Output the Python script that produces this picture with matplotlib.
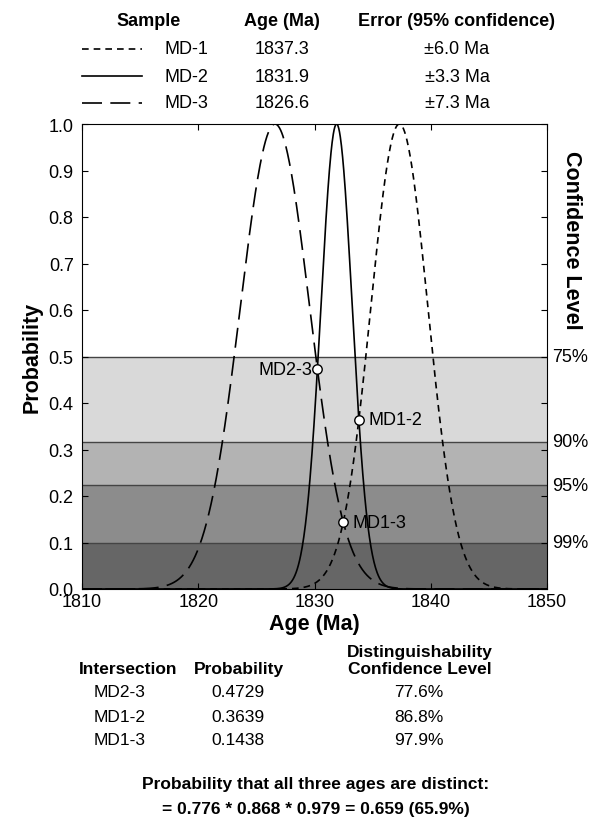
import numpy as np
import matplotlib
matplotlib.use("Agg")
import matplotlib.pyplot as plt

plt.rcParams['font.family'] = ['Liberation Sans', 'DejaVu Sans']

# Samples (age and 95% error)
samples = ["MD-1", "MD-2", "MD-3"]
ages = [1837.3, 1831.9, 1826.6]
errors = [6.0, 3.3, 7.3]
styles = [(0, (4, 3)), "-", (0, (12, 5))]

# Intersections between the curves
pairs = [(1, 2), (0, 1), (0, 2)]
pair_names = ["MD2-3", "MD1-2", "MD1-3"]
pair_probs = [0.4729, 0.3639, 0.1438]
pair_conf = ["77.6%", "86.8%", "97.9%"]

# Confidence bands
conf_levels = [75, 90, 95, 99]
band_colors = ["#d9d9d9", "#b3b3b3", "#8c8c8c", "#666666"]

K95 = 2.4477  # 95% error -> sigma
W, H = 601, 820
FS = 13


def fx(px):
    return px / W


def fy(py):
    return 1 - py / H


fig = plt.figure(figsize=(W / 100, H / 100), dpi=100)
ax = fig.add_axes([fx(82), fy(590), (547 - 82) / W, (590 - 125) / H])

# grey bands
levels = [np.sqrt(1 - c / 100.0) for c in conf_levels] + [0.0]
for i, c in enumerate(conf_levels):
    ax.axhspan(levels[i + 1], levels[i], color=band_colors[i], lw=0, zorder=0)
    ax.axhline(levels[i], color="#444444", lw=1.0, zorder=1)
    ax.text(1.011, levels[i], "%d%%" % c, transform=ax.get_yaxis_transform(),
            va="center", ha="left", fontsize=FS)

x = np.linspace(1810, 1850, 1200)
for name, a, e, ls in zip(samples, ages, errors, styles):
    s = e / K95
    ax.plot(x, np.exp(-0.5 * ((x - a) / s) ** 2), color="black", lw=1.2,
            linestyle=ls, zorder=2)

for (i, j), nm, p in zip(pairs, pair_names, pair_probs):
    si, sj = errors[i] / K95, errors[j] / K95
    xi = ages[j] + (ages[i] - ages[j]) * sj / (si + sj)
    ax.plot(xi, p, "o", ms=6.8, mfc="white", mec="black", mew=1.0, zorder=4)
    if nm == "MD2-3":
        ax.text(xi - 0.4, p, nm, ha="right", va="center", fontsize=FS, zorder=5)
    else:
        ax.text(xi + 0.8, p, nm, ha="left", va="center", fontsize=FS, zorder=5)

ax.set_xlim(1810, 1850)
ax.set_ylim(0, 1.0)
ax.set_xticks(np.arange(1810, 1851, 10))
ax.set_yticks(np.arange(0, 1.01, 0.1))
ax.set_yticklabels(["%.1f" % v for v in np.arange(0, 1.01, 0.1)])
ax.tick_params(direction="in", top=True, right=True, labelsize=FS, length=4)
ax.tick_params(axis="y", pad=6)
ax.tick_params(axis="x", pad=3)
ax.set_xlabel("Age (Ma)", fontsize=15.5, fontweight="bold", labelpad=2)
ax.set_ylabel("Probability", fontsize=15.5, fontweight="bold", labelpad=4)
fig.text(fx(572), fy(240), "Confidence Level", rotation=-90, ha="center",
         va="center", fontsize=15.5, fontweight="bold")

# top legend table
fig.text(fx(149), fy(21), "Sample", ha="center", va="center", fontsize=FS, fontweight="bold")
fig.text(fx(282), fy(21), "Age (Ma)", ha="center", va="center", fontsize=FS, fontweight="bold")
fig.text(fx(456), fy(21), "Error (95% confidence)", ha="center", va="center",
         fontsize=FS, fontweight="bold")
rows_y = [50, 77, 104]
for name, a, e, ls, ry in zip(samples, ages, errors, styles, rows_y):
    fig.add_artist(plt.Line2D([fx(82), fx(142)], [fy(ry), fy(ry)], color="black",
                              lw=1.2, linestyle=ls))
    fig.text(fx(164), fy(ry), name, ha="left", va="center", fontsize=FS)
    fig.text(fx(282), fy(ry), "%.1f" % a, ha="center", va="center", fontsize=FS)
    fig.text(fx(457), fy(ry), "\u00b1%.1f Ma" % e, ha="center", va="center", fontsize=FS)

# bottom table
BS = 12.5
fig.text(fx(128), fy(670), "Intersection", ha="center", va="center", fontsize=BS, fontweight="bold")
fig.text(fx(239), fy(670), "Probability", ha="center", va="center", fontsize=BS, fontweight="bold")
fig.text(fx(420), fy(661), "Distinguishability\nConfidence Level", ha="center", va="center",
         fontsize=BS, fontweight="bold", linespacing=1.1)
for nm, p, c, ry in zip(pair_names, pair_probs, pair_conf, [693, 718, 741]):
    fig.text(fx(120), fy(ry), nm, ha="center", va="center", fontsize=BS)
    fig.text(fx(238), fy(ry), "%.4f" % p, ha="center", va="center", fontsize=BS)
    fig.text(fx(419), fy(ry), c, ha="center", va="center", fontsize=BS)

fig.text(fx(316), fy(785), "Probability that all three ages are distinct:", ha="center",
         va="center", fontsize=BS, fontweight="bold")
fig.text(fx(316), fy(810), "= 0.776 * 0.868 * 0.979 = 0.659 (65.9%)", ha="center",
         va="center", fontsize=BS, fontweight="bold")

fig.savefig("out.png", dpi=100)
